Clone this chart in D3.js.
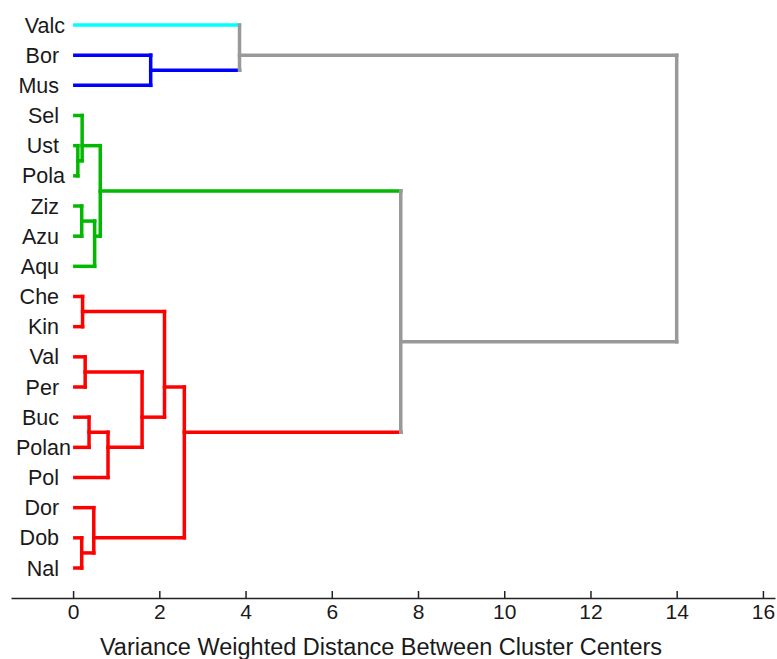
<!DOCTYPE html>
<html lang="en">
<head>
    <meta charset="UTF-8">
    <title>Dendrogram</title>
    <script src="https://cdnjs.cloudflare.com/ajax/libs/d3/7.8.5/d3.min.js"></script>
    <style>
        body { margin: 0; background: #ffffff; }
        svg { display: block; }
        .leaf-label { font-family: "Liberation Sans", Arial, sans-serif; font-size: 21.5px; white-space: pre; fill: #1a1a1a; }
        .x-axis text { font-family: "Liberation Sans", Arial, sans-serif; font-size: 21px; fill: #1a1a1a; }
        .axis-title { font-family: "Liberation Sans", Arial, sans-serif; font-size: 23.5px; fill: #1a1a1a; }
    </style>
</head>
<body>
    <div id="chart"></div>
    <script>
        // leaves, top to bottom (labels padded like a char matrix)
        const leaves     = ["Valc", "Bor", "Mus", "Sel", "Ust", "Pola", "Ziz", "Azu", "Aqu", "Che", "Kin", "Val", "Per", "Buc", "Polan", "Pol", "Dor", "Dob", "Nal"];
        const leafColor  = ["cyan", "blue", "blue", "green", "green", "green", "green", "green", "green",
                            "red", "red", "red", "red", "red", "red", "red", "red", "red", "red"];

        // merges: node id, the two children, distance, colour of the link
        const mergeIds   = ["BM", "VBM", "UP", "SUP", "ZA", "ZAA", "GRN", "CK", "VP", "BP", "BPP", "VPB", "CKV", "DN", "DDN", "RED", "GR", "ROOT"];
        const mergeLeft  = ["Bor", "Valc", "Ust", "Sel", "Ziz", "ZA", "SUP", "Che", "Val", "Buc", "BP", "VP", "CK", "Dob", "Dor", "CKV", "GRN", "VBM"];
        const mergeRight = ["Mus", "BM", "Pola", "UP", "Azu", "Aqu", "ZAA", "Kin", "Per", "Polan", "Pol", "BPP", "VPB", "Nal", "DN", "DDN", "RED", "GR"];
        const mergeDist  = [1.80, 3.86, 0.11, 0.21, 0.20, 0.50, 0.63, 0.22, 0.28, 0.37, 0.81, 1.60, 2.12, 0.20, 0.48, 2.58, 7.60, 14.0];
        const mergeColor = ["blue", "grey", "green", "green", "green", "green", "green", "red", "red", "red", "red", "red", "red", "red", "red", "red", "grey", "grey"];

        const xTicks = [0, 2, 4, 6, 8, 10, 12, 14, 16];
        const xTitle = "Variance Weighted Distance Between Cluster Centers";

        const palette = { cyan: "#00ffff", blue: "#0000ff", green: "#00b900", red: "#ff0000", grey: "#999999" };

        const W = 777, H = 659;
        const axisY = 598;

        const x = d3.scaleLinear().domain([-1.44, 16.28]).range([11, 775]);
        const y = d3.scaleLinear().domain([0, leaves.length - 1]).range([25, 568]);

        const svg = d3.select("#chart")
            .append("svg")
            .attr("width", W)
            .attr("height", H);

        // node table: leaves then merges; y = mean of leaf positions
        const nodes = {};
        leaves.forEach((name, i) => {
            nodes[name] = { h: 0, leafIdx: [i], color: leafColor[i] };
        });
        mergeIds.forEach((id, k) => {
            const a = nodes[mergeLeft[k]], b = nodes[mergeRight[k]];
            nodes[id] = { h: mergeDist[k], leafIdx: a.leafIdx.concat(b.leafIdx), color: mergeColor[k], a, b };
        });
        Object.values(nodes).forEach(n => { n.y = d3.mean(n.leafIdx, i => y(i)); });

        const links = mergeIds.map(id => nodes[id]);

        const g = svg.append("g")
            .attr("fill", "none")
            .attr("stroke-width", 3.5)
            .attr("stroke-linecap", "square");

        // horizontal stubs, in the child's colour
        links.forEach(n => {
            [n.a, n.b].forEach(c => {
                g.append("line")
                    .attr("x1", x(c.h) + (c.h === 0 ? 1.75 : 0))
                    .attr("x2", x(n.h))
                    .attr("y1", c.y)
                    .attr("y2", c.y)
                    .attr("stroke", palette[c.color]);
            });
        });

        // verticals, in the node's colour
        g.selectAll(".vert")
            .data(links)
            .enter().append("line")
            .attr("class", "vert")
            .attr("x1", d => x(d.h))
            .attr("x2", d => x(d.h))
            .attr("y1", d => d.a.y)
            .attr("y2", d => d.b.y)
            .attr("stroke", d => palette[d.color]);

        // leaf labels
        const maxLen = d3.max(leaves, s => s.length);
        svg.selectAll(".leaf-label")
            .data(leaves)
            .enter().append("text")
            .attr("class", "leaf-label")
            .attr("x", 71)
            .attr("y", (d, i) => y(i))
            .attr("dy", "0.35em")
            .attr("text-anchor", "end")
            .text(d => d.padEnd(maxLen, " "));

        // x axis, ticks pointing up
        const xAxis = svg.append("g")
            .attr("class", "x-axis")
            .attr("transform", `translate(0,${axisY})`)
            .call(d3.axisBottom(x).tickValues(xTicks).tickSizeInner(-7).tickSizeOuter(0).tickPadding(6));

        xAxis.select(".domain").attr("stroke", "#222").attr("stroke-width", 1.5);
        xAxis.selectAll(".tick line").attr("stroke", "#222").attr("stroke-width", 1.5);

        svg.append("text")
            .attr("class", "axis-title")
            .attr("x", 381)
            .attr("y", 655)
            .attr("text-anchor", "middle")
            .text(xTitle);
    </script>
</body>
</html>
